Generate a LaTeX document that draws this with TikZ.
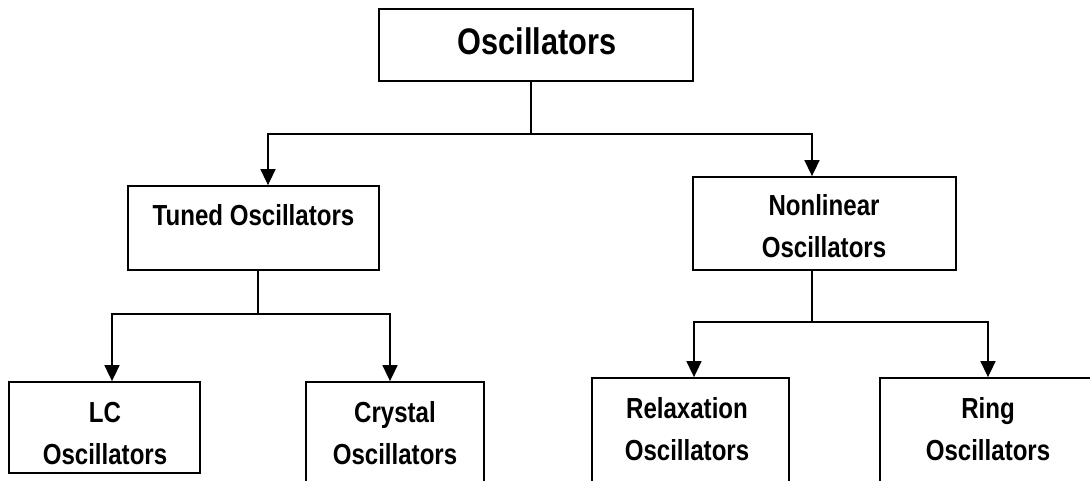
\documentclass[tikz,border=0pt]{standalone}
\usepackage{fontspec}
\setmainfont{Liberation Sans}[FakeStretch=0.83]
\usetikzlibrary{arrows.meta}
\tikzset{
  box/.style={draw=black, line width=1.8pt, rectangle, inner sep=0pt},
  lbl/.style={inner sep=0pt, align=center, font=\bfseries\fontsize{29}{42}\selectfont},
  biglbl/.style={inner sep=0pt, align=center, font=\bfseries\fontsize{37}{44}\selectfont},
  conn/.style={line width=1.6pt, line cap=rect},
  arr/.style={line width=1.6pt, -{Triangle[width=15pt,length=16pt]}},
}
\begin{document}
\begin{tikzpicture}[x=1pt, y=-1pt]
\clip (0,0) rectangle (1090,480);
\fill[white] (0,0) rectangle (1090,480);
% boxes
\node[box, minimum width=314pt, minimum height=72pt] (top) at (536,45) {};
\node[biglbl] (toptxt) at (537,41) {Oscillators};
\node[box, minimum width=251pt, minimum height=84pt] (tuned) at (253.5,228) {};
\node[lbl] (tunedtxt) at (253.5,215) {Tuned Oscillators};
\node[box, minimum width=263pt, minimum height=93pt] (nonlin) at (824.5,223.5) {};
\node[lbl] (nonlintxt) at (824,226) {Nonlinear\\Oscillators};
\node[box, minimum width=191pt, minimum height=91pt] (lc) at (104.5,427.5) {};
\node[lbl] (lctxt) at (105,433.5) {LC\\Oscillators};
\node[box, minimum width=178pt, minimum height=138pt] (crystal) at (395,451) {};
\node[lbl] (crystaltxt) at (395,433.5) {Crystal\\Oscillators};
\node[box, minimum width=197pt, minimum height=142pt] (relax) at (690.5,449) {};
\node[lbl] (relaxtxt) at (687,429) {Relaxation\\Oscillators};
\node[box, minimum width=240pt, minimum height=142pt] (ring) at (1000,449) {};
\node[lbl] (ringtxt) at (988,429) {Ring\\Oscillators};
% connectors level 1
\coordinate (j1) at (531,134);
\coordinate (a1) at (268,134);
\coordinate (a2) at (812,134);
\draw[conn] (j1 |- top.south) -- (j1);
\draw[conn] (a1) -- (a2);
\draw[arr] (a1) -- (a1 |- tuned.north);
\draw[arr] (a2) -- (a2 |- nonlin.north);
% connectors level 2 left
\coordinate (j2) at (258,314);
\coordinate (b1) at (112,314);
\coordinate (b2) at (390,314);
\draw[conn] (j2 |- tuned.south) -- (j2);
\draw[conn] (b1) -- (b2);
\draw[arr] (b1) -- (b1 |- lc.north);
\draw[arr] (b2) -- (b2 |- crystal.north);
% connectors level 2 right
\coordinate (j3) at (812,322);
\coordinate (c1) at (694,322);
\coordinate (c2) at (988,322);
\draw[conn] (j3 |- nonlin.south) -- (j3);
\draw[conn] (c1) -- (c2);
\draw[arr] (c1) -- (c1 |- relax.north);
\draw[arr] (c2) -- (c2 |- ring.north);
\end{tikzpicture}
\end{document}
